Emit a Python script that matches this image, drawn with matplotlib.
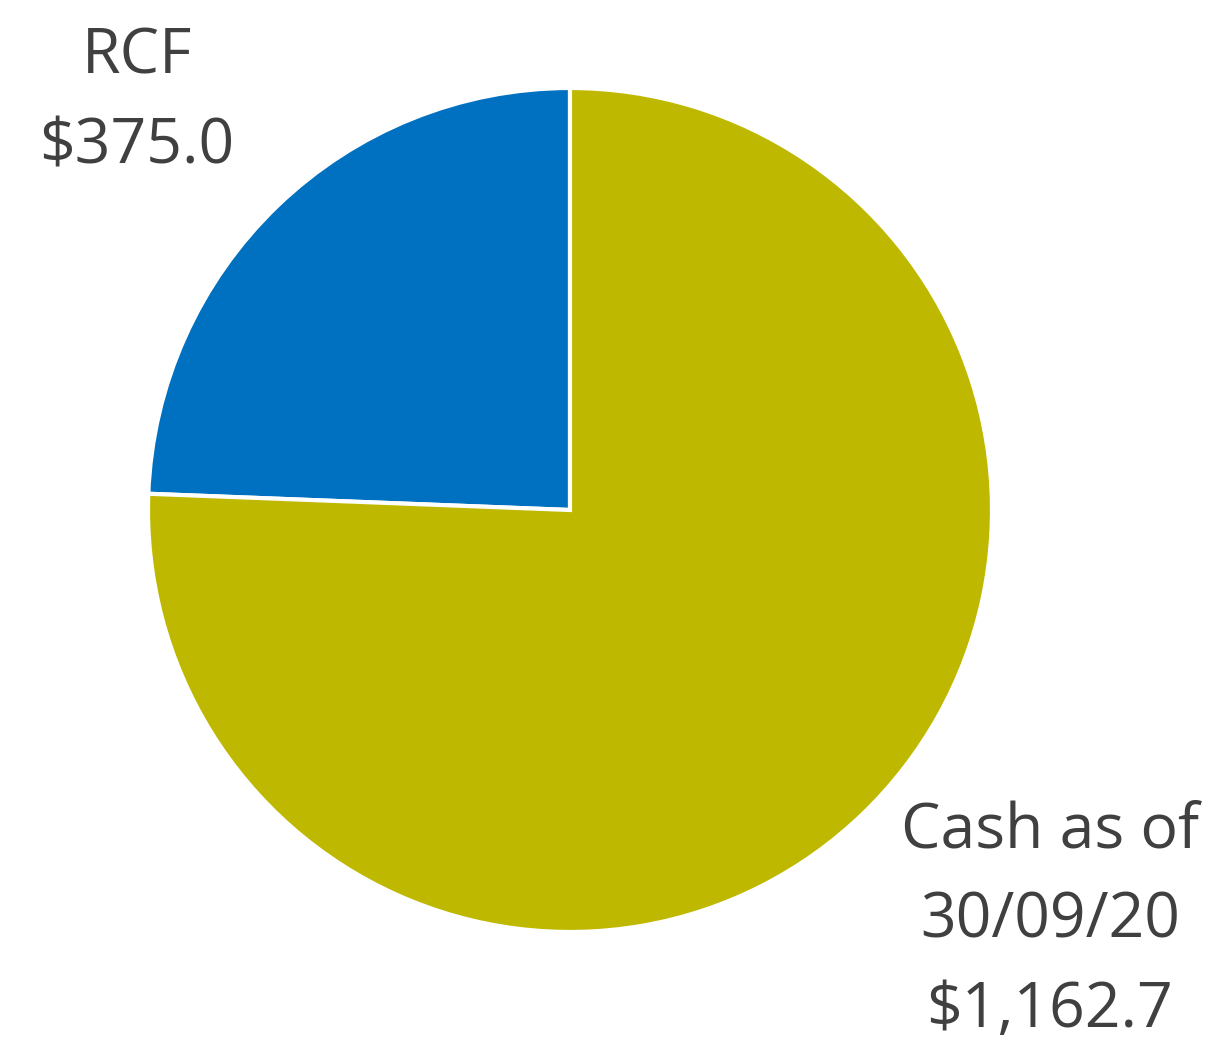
import matplotlib
matplotlib.use("Agg")
import matplotlib.pyplot as plt

labels = ["RCF\n$375.0", "Cash as of\n30/09/20\n$1,162.7"]
values = [375.0, 1162.7]
colors = ["#0070C0", "#BFB800"]

W, H = 1210, 1044
fig = plt.figure(figsize=(W / 100, H / 100), dpi=100)
ax = fig.add_axes([0, 0, 1, 1])
ax.set_xlim(0, W)
ax.set_ylim(0, H)
ax.set_aspect("equal")
ax.axis("off")

ax.pie(values, colors=colors, startangle=90, counterclock=True,
       center=(570, H - 510), radius=422,
       wedgeprops=dict(edgecolor="white", linewidth=3))
ax.set_xlim(0, W)
ax.set_ylim(0, H)

font = dict(family=["Open Sans", "DejaVu Sans"], fontsize=45, color="#404040",
            ha="center", va="center", linespacing=1.58)
ax.text(137, H - 102, labels[0], **font)
ax.text(1050, H - 921, labels[1], **font)

fig.savefig("out.png", dpi=100)
